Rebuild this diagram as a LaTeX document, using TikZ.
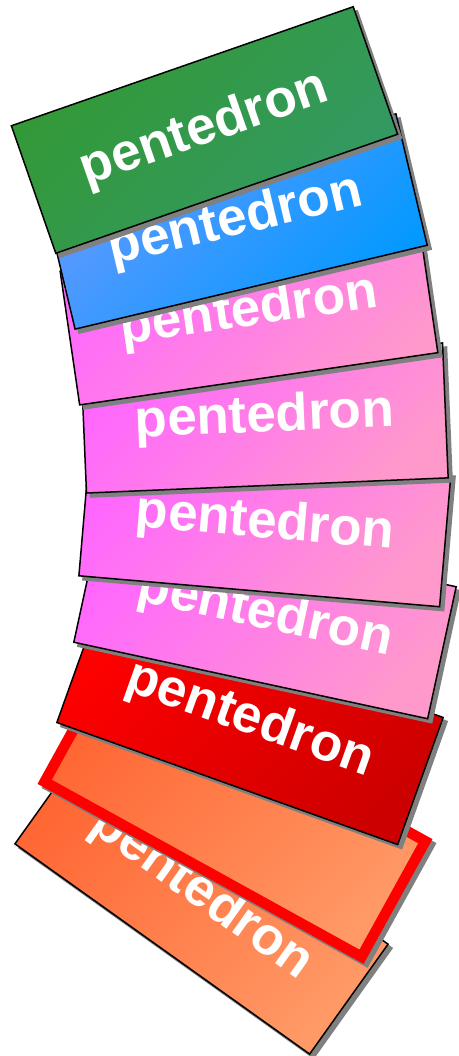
\documentclass[tikz,border=0pt]{standalone}
\usepackage{fontspec}
\newfontfamily\pfont{Liberation Sans}
\definecolor{gA}{HTML}{339933}\definecolor{gB}{HTML}{339966}
\definecolor{bA}{HTML}{6699FF}\definecolor{bB}{HTML}{0099FF}
\definecolor{pA}{HTML}{FF66FF}\definecolor{pB}{HTML}{FF99CC}
\definecolor{rA}{HTML}{FF0000}\definecolor{rB}{HTML}{CC0000}
\definecolor{oA}{HTML}{FF6633}\definecolor{oB}{HTML}{FF9966}
\definecolor{shgray}{HTML}{808080}
\tikzset{
  pbox/.style={rectangle, minimum width=362pt, minimum height=135pt, inner sep=0pt,
    draw=black, line width=1.5pt, line join=miter, text=white,
    font={\pfont\bfseries\fontsize{53}{60}\selectfont}},
  pshadow/.style={rectangle, minimum width=362pt, minimum height=135pt, inner sep=0pt,
    fill=shgray, draw=shgray, line width=1.5pt},
  bshadow/.style={rectangle, minimum width=362pt, minimum height=132pt, inner sep=0pt,
    fill=shgray, draw=shgray, line width=10.5pt},
  gfill/.style={top color=gA, bottom color=gB, shading angle=45},
  bfill/.style={top color=bA, bottom color=bB, shading angle=45},
  pfill/.style={top color=pA, bottom color=pB, shading angle=45},
  rfill/.style={top color=rA, bottom color=rB, shading angle=45},
  ofill/.style={top color=oA, bottom color=oB, shading angle=45},
  redborder/.style={rectangle, minimum width=362pt, minimum height=132pt, inner sep=0pt,
    draw=red, line width=10.5pt, line join=miter},
}
\begin{document}
\begin{tikzpicture}[x=1pt,y=1pt]
\useasboundingbox (0,0) rectangle (458,-1056);
% 9 bottom orange
\node[pshadow, rotate=-35.5] (s9) at (205.5,-898) {};
\node[pbox, ofill, rotate=-35.5] (n9) at (201.5,-894) {pentedron};
% 8 orange with red border
\node[bshadow, rotate=-28.9] (s8) at (239,-815.5) {};
\node[redborder, ofill, rotate=-28.9] (n8) at (235,-811.5) {};
% 7 red
\node[pshadow, rotate=-19.7] (s7) at (254,-724) {};
\node[pbox, rfill, rotate=-19.7] (n7) at (250,-720) {pentedron};
% 6 pink
\node[pshadow, rotate=-12.2] (s6) at (269,-618.5) {};
\node[pbox, pfill, rotate=-12.2] (n6) at (265,-614.5) {pentedron};
% 5 pink
\node[pshadow, rotate=-4.9] (s5) at (269,-528) {};
\node[pbox, pfill, rotate=-4.9] (n5) at (265,-524) {pentedron};
% 4 pink
\node[pshadow, rotate=2.4] (s4) at (268.5,-422) {};
\node[pbox, pfill, rotate=2.4] (n4) at (264.5,-418) {pentedron};
% 3 pink
\node[pshadow, rotate=8.3] (s3) at (253,-316) {};
\node[pbox, pfill, rotate=8.3] (n3) at (249,-312) {pentedron};
% 2 blue
\node[pshadow, rotate=13.4] (s2) at (239.5,-225.5) {};
\node[pbox, bfill, rotate=13.4] (n2) at (235.5,-221.5) {pentedron};
% 1 green
\node[pshadow, rotate=19.2] (s1) at (208.5,-134) {};
\node[pbox, gfill, rotate=19.2] (n1) at (204.5,-130) {pentedron};
\end{tikzpicture}
\end{document}
